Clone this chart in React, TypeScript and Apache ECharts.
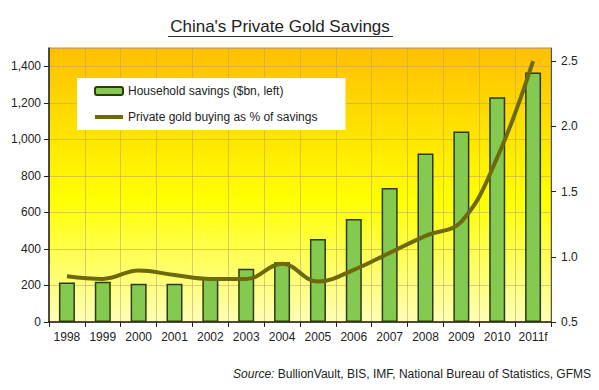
import React, { useEffect, useRef } from "react";
import * as echarts from "echarts";

const years = ["1998", "1999", "2000", "2001", "2002", "2003", "2004", "2005", "2006", "2007", "2008", "2009", "2010", "2011f"];
const savings = [216, 221, 209, 209, 238, 291, 327, 454, 564, 733, 922, 1043, 1230, 1366];
const goldPct = [0.85, 0.83, 0.895, 0.86, 0.83, 0.83, 0.946, 0.81, 0.9, 1.03, 1.16, 1.27, 1.76, 2.5];
const titleText = "China's Private Gold Savings";
const barName = "Household savings ($bn, left)";
const lineName = "Private gold buying as % of savings";

export default function App() {
  const ref = useRef<HTMLDivElement>(null);
  useEffect(() => {
    if (!ref.current) return;
    const chart = echarts.init(ref.current, null, { renderer: "svg" });
    const font = "Arial, 'Liberation Sans', sans-serif";
    chart.setOption({
      animation: false,
      backgroundColor: "#ffffff",
      textStyle: { fontFamily: font },
      grid: {
        left: 49,
        right: 48,
        top: 48,
        bottom: 68,
        show: true,
        borderColor: "#c8962a",
        borderWidth: 1,
        backgroundColor: new echarts.graphic.LinearGradient(0, 0, 0, 1, [
          { offset: 0, color: "#ffbf00" },
          { offset: 0.55, color: "#ffff00" },
          { offset: 1, color: "#ffffb8" },
        ]),
      },
      legend: {
        left: 77,
        top: 78,
        orient: "vertical",
        backgroundColor: "#ffffff",
        padding: [7, 28, 7, 16],
        itemGap: 14,
        itemWidth: 28,
        itemHeight: 8,
        textStyle: { fontSize: 12, color: "#222", fontFamily: font },
        data: [
          { name: barName },
          {
            name: lineName,
            itemStyle: { color: "rgba(0,0,0,0)", borderWidth: 0 },
            lineStyle: { width: 4, color: "#6e6a0c" },
          },
        ],
      },
      xAxis: {
        type: "category",
        data: years,
        axisLine: { lineStyle: { color: "#222", width: 1.5 } },
        axisTick: { show: true, alignWithLabel: false, length: 5, lineStyle: { color: "#222" } },
        axisLabel: { fontSize: 12, color: "#222", margin: 9, interval: 0 },
        splitLine: { show: true, interval: 0, lineStyle: { color: "rgba(190,160,110,0.55)", width: 1 } },
      },
      yAxis: [
        {
          type: "value",
          min: 0,
          max: 1500,
          interval: 200,
          axisLine: { show: true, lineStyle: { color: "#222", width: 1.5 } },
          axisTick: { show: true, length: 5, lineStyle: { color: "#222" } },
          axisLabel: {
            fontSize: 12,
            color: "#222",
            margin: 8,
            showMaxLabel: false,
            formatter: (v: number) => v.toLocaleString("en-US"),
          },
          splitLine: { show: true, lineStyle: { color: "rgba(190,160,110,0.55)", width: 1 } },
        },
        {
          type: "value",
          min: 0.5,
          max: 2.6,
          interval: 0.5,
          position: "right",
          axisLine: { show: true, lineStyle: { color: "#555", width: 1 } },
          axisTick: { show: true, length: 5, lineStyle: { color: "#222" } },
          axisLabel: {
            fontSize: 12,
            color: "#222",
            margin: 10,
            showMaxLabel: false,
            formatter: (v: number) => v.toFixed(1),
          },
          splitLine: { show: false },
        },
      ],
      series: [
        {
          name: barName,
          type: "bar",
          data: savings,
          barWidth: 16,
          itemStyle: { color: "#84c950", borderColor: "#2e3a0e", borderWidth: 1.5 },
          yAxisIndex: 0,
        },
        {
          name: lineName,
          type: "line",
          data: goldPct,
          yAxisIndex: 1,
          smooth: 0.4,
          symbol: "none",
          lineStyle: { color: "#6e6a0c", width: 4 },
          itemStyle: { color: "#6e6a0c" },
        },
      ],
      graphic: [
        {
          type: "text",
          x: 280,
          y: 26,
          style: {
            text: titleText,
            fontSize: 17,
            fontFamily: font,
            fill: "#222",
            align: "center",
            verticalAlign: "middle",
          },
        },
        {
          type: "line",
          shape: { x1: 168, y1: 36.5, x2: 393, y2: 36.5 },
          style: { stroke: "#333", lineWidth: 1 },
        },
        {
          type: "text",
          x: 591,
          y: 374,
          style: {
            text: "{i|Source:} BullionVault, BIS, IMF, National Bureau of Statistics, GFMS",
            fontSize: 12,
            fontFamily: font,
            fill: "#222",
            align: "right",
            verticalAlign: "middle",
            rich: { i: { fontStyle: "italic", fontSize: 12, fontFamily: font, fill: "#222" } },
          },
        },
      ],
    });
    return () => chart.dispose();
  }, []);
  return <div ref={ref} style={{ position: "fixed", left: 0, top: 0, width: 599, height: 390 }} />;
}
